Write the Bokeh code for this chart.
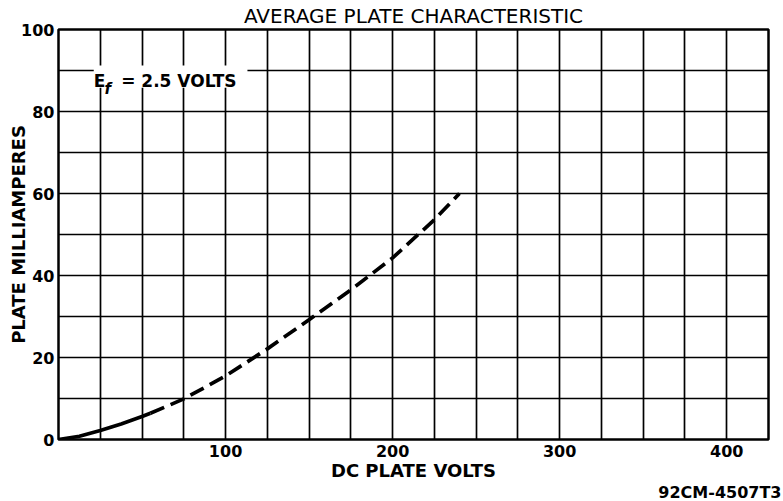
from bokeh.plotting import figure
from bokeh.models import Range1d, FixedTicker, SingleIntervalTicker, Label, BoxAnnotation, Title
from bokeh.embed import file_html
from bokeh.resources import INLINE

# ---- data ----
title_text = "AVERAGE PLATE CHARACTERISTIC"
x_label = "DC PLATE VOLTS"
y_label = "PLATE MILLIAMPERES"
figure_code = "92CM-4507T3"

x_ticks = [100, 200, 300, 400]
y_ticks = [0, 20, 40, 60, 80, 100]

# solid (measured) part of curve
solid_volts = [0, 12.5, 25, 37.5, 50, 55]
solid_ma = [0, 0.8, 2.2, 3.8, 5.6, 6.4]
# dashed (extrapolated) part of curve
dashed_volts = [55, 75, 100, 125, 150, 175, 200, 225, 240]
dashed_ma = [6.4, 9.9, 15.5, 22.1, 29.2, 36.5, 44.3, 53.6, 60.0]

FONT = "DejaVu Sans"

p = figure(width=783, height=501, output_backend="svg", toolbar_location=None,
           x_range=Range1d(0, 425), y_range=Range1d(0, 100),
           min_border_left=58, min_border_right=15, min_border_top=29,
           min_border_bottom=62, title=title_text)

p.background_fill_color = "white"
p.border_fill_color = "white"
p.outline_line_color = "black"
p.outline_line_width = 2.5

p.title.text_font = FONT
p.title.text_font_size = "20px"
p.title.text_font_style = "normal"
p.title.align = "center"
p.title.standoff = 2.5
p.title.text_color = "black"

# grid
p.xgrid.ticker = SingleIntervalTicker(interval=25)
p.ygrid.ticker = SingleIntervalTicker(interval=10)
for g in (p.xgrid, p.ygrid):
    g.grid_line_color = "black"
    g.grid_line_width = 1.7
    g.grid_line_alpha = 1.0

# axes
p.xaxis.ticker = FixedTicker(ticks=x_ticks)
p.yaxis.ticker = FixedTicker(ticks=y_ticks)
for ax in (p.xaxis, p.yaxis):
    ax.axis_line_color = None
    ax.major_tick_line_color = None
    ax.minor_tick_line_color = None
    ax.major_tick_out = 0
    ax.major_tick_in = 0
    ax.major_label_text_font = FONT
    ax.major_label_text_font_size = "16px"
    ax.major_label_text_font_style = "bold"
    ax.major_label_text_color = "black"
    ax.axis_label_text_font = FONT
    ax.axis_label_text_font_style = "bold"
    ax.axis_label_text_color = "black"

p.xaxis.major_label_standoff = 5
p.yaxis.major_label_standoff = 4

p.xaxis.axis_label = x_label
p.xaxis.axis_label_text_font_size = "18px"
p.xaxis.axis_label_standoff = 0

p.yaxis.axis_label = y_label
p.yaxis.axis_label_text_font_size = "18px"
p.yaxis.axis_label_standoff = -11

# figure code, bottom right
code_title = Title(text=figure_code, align="right", text_font=FONT, text_font_size="16px",
                   text_font_style="bold", text_color="black", standoff=-5, offset=-13)
p.add_layout(code_title, "below")

# curve
p.line(solid_volts, solid_ma, line_color="black", line_width=3.7)
p.line(dashed_volts, dashed_ma, line_color="black", line_width=3.7, line_dash="15 7")

# annotation Ef = 2.5 VOLTS with white cover for grid
p.add_layout(BoxAnnotation(left=21.1, right=113.1, bottom=85.8, top=91.2,
                           fill_color="white", fill_alpha=1.0, line_color=None))
p.add_layout(Label(x=21.1, y=87.5, text="E", text_font=FONT, text_font_size="17px",
                   text_font_style="bold", text_baseline="alphabetic", text_color="black"))
p.add_layout(Label(x=27.6, y=85.5, text="f", text_font=FONT, text_font_size="15px",
                   text_font_style="bold italic", text_baseline="alphabetic", text_color="black"))
p.add_layout(Label(x=37.5, y=87.5, text="= 2.5 VOLTS", text_font=FONT, text_font_size="17px",
                   text_font_style="bold", text_baseline="alphabetic", text_color="black"))

open("out.html", "w").write(file_html(p, INLINE))
